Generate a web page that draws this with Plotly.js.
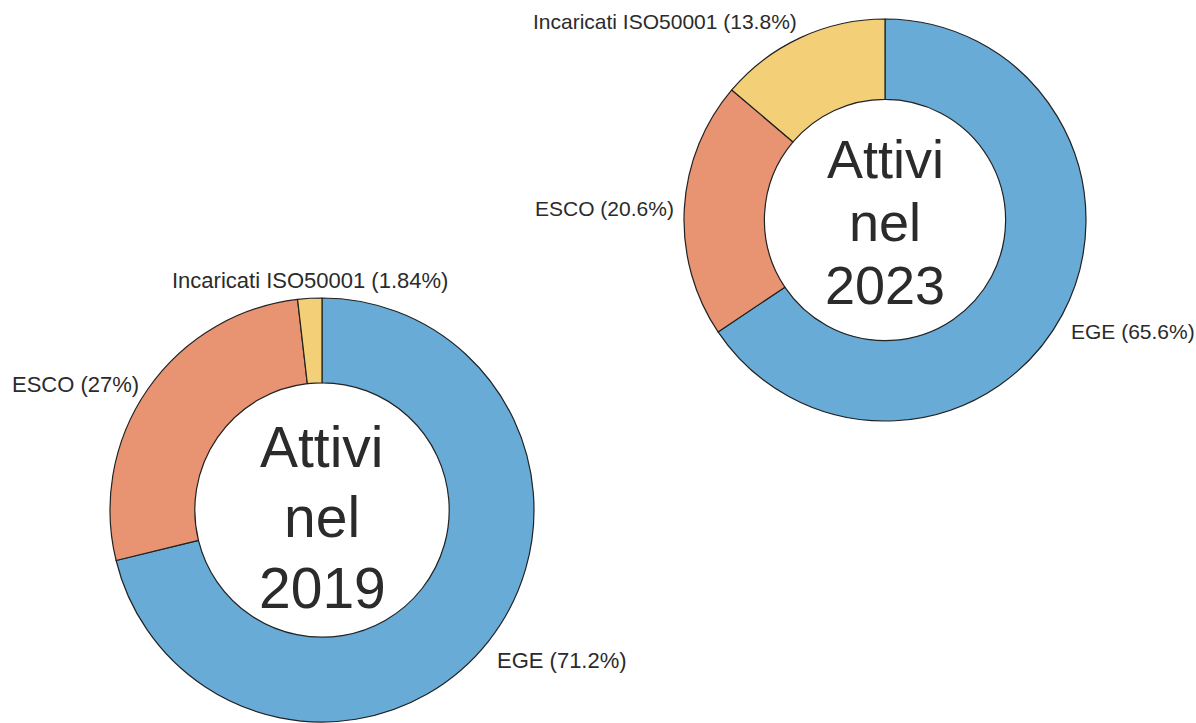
<!DOCTYPE html>
<html>
<head>
<meta charset="utf-8">
<script src="https://cdn.plot.ly/plotly-3.0.1.min.js"></script>
<style>html,body{margin:0;padding:0;background:#fff;}#chart{width:1196px;height:723px;}</style>
</head>
<body>
<div id="chart"></div>
<script>
var categories = ["EGE", "ESCO", "Incaricati ISO50001"];
var values2019 = [71.2, 27, 1.84];
var values2023 = [65.6, 20.6, 13.8];
var centerLines2019 = ["Attivi", "nel", "2019"];
var centerLines2023 = ["Attivi", "nel", "2023"];
var colors = ["#67abd6", "#e89472", "#f3d078"];

var W = 1196, H = 723;
var fontFam = "Liberation Sans, Arial, sans-serif";
var textColor = "#2b2b2b";

// pie geometry (pixels): centre and outer radius
var pies = [
  {vals: values2019, lines: centerLines2019, cx: 322, cy: 510, r: 212, lab: 22, big: 57, textCy: 517, gap: 70.5},
  {vals: values2023, lines: centerLines2023, cx: 885, cy: 220, r: 201, lab: 21, big: 54, textCy: 222, gap: 63.2}
];

function fmtPct(v, tot) {
  var p = v / tot * 100;
  return String(parseFloat(p.toPrecision(3))) + "%";
}

var data = [];
var annotations = [];
pies.forEach(function (p) {
  data.push({
    type: "pie",
    labels: categories,
    values: p.vals,
    hole: 0.6,
    sort: false,
    direction: "clockwise",
    rotation: 0,
    domain: {x: [(p.cx - p.r) / W, (p.cx + p.r) / W], y: [(H - p.cy - p.r) / H, (H - p.cy + p.r) / H]},
    marker: {colors: colors, line: {color: "#222222", width: 1.2}},
    textinfo: "none",
    hoverinfo: "label+percent",
    showlegend: false
  });
  // outside labels, placed at the middle angle of each slice
  var tot = p.vals.reduce(function (a, b) { return a + b; }, 0);
  var cum = 0;
  p.vals.forEach(function (v, i) {
    var mid = (cum + v / 2) / tot * 2 * Math.PI;
    cum += v;
    var s = Math.sin(mid), c = Math.cos(mid);
    var xa = s > 0.3 ? "left" : (s < -0.3 ? "right" : "center");
    var ya = c < -0.4 ? "top" : (c > 0.8 ? "bottom" : "middle");
    var rr = p.r + (ya === "bottom" ? 3 : 8);
    var px = p.cx + rr * s, py = p.cy - rr * c;
    annotations.push({
      text: categories[i] + " (" + fmtPct(v, tot) + ")",
      x: px / W, y: (H - py) / H, xref: "paper", yref: "paper",
      xanchor: xa, yanchor: ya, showarrow: false,
      font: {family: fontFam, size: p.lab, color: textColor}
    });
  });
  // centre text
  p.lines.forEach(function (t, k) {
    var yy = p.textCy + (k - 1) * p.gap;
    annotations.push({
      text: t, x: p.cx / W, y: (H - yy) / H, xref: "paper", yref: "paper",
      xanchor: "center", yanchor: "middle", showarrow: false,
      font: {family: fontFam, size: p.big, color: textColor}
    });
  });
});

var layout = {
  width: W, height: H,
  margin: {l: 0, r: 0, t: 0, b: 0},
  paper_bgcolor: "#ffffff",
  showlegend: false,
  font: {family: fontFam, color: textColor},
  annotations: annotations
};

Plotly.newPlot("chart", data, layout, {displayModeBar: false});
</script>
</body>
</html>
